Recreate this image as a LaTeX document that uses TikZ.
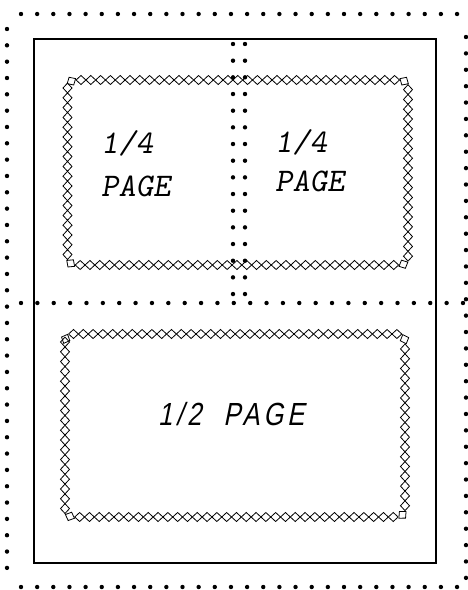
\documentclass[tikz,border=0pt]{standalone}
\usepackage{fontspec}
\newfontfamily\condsans[FakeStretch=0.8,FakeSlant=0.2,LetterSpace=12]{Liberation Sans}
\usetikzlibrary{decorations.markings, positioning}

\begin{document}
\begin{tikzpicture}[x=1pt, y=-1pt,
frame/.style={line width=2pt},
chain/.style={rounded corners=8pt, postaction={decorate},
  decoration={markings, mark=between positions 0 and 1 step 9.8pt with {
    \draw[sharp corners, line width=0.8pt] (-4.9pt,0) -- (0,4.5pt) -- (4.9pt,0) -- (0,-4.5pt) -- cycle;}}},
quarter/.style={font=\ttfamily\slshape\fontsize{33}{38}\selectfont, inner sep=0pt, anchor=west},
half/.style={font=\condsans\fontsize{32}{38}\selectfont, inner sep=0pt, anchor=west}
]
\useasboundingbox (0,0) rectangle (468,590);
% page and ad spaces
\draw[frame] (34,39) rectangle (436,563);
\path[chain] (67.5,80) rectangle (408,265);
\path[chain] (65,334) rectangle (405,517);
% dotted cut lines
\foreach \i in {0,...,27} {
  \fill (21+\i*16.15,14) circle (2.2pt);
  \fill (21+\i*16.15,587) circle (2.2pt);
  \fill (21+\i*16.37,303) circle (2.2pt);
}
\foreach \i in {0,...,33} {
  \fill (7,29+\i*16.33) circle (2.2pt);
  \fill (466,37+\i*16.39) circle (2.2pt);
}
\foreach \i in {0,...,15} {
  \fill (233,44+\i*16.67) circle (2.2pt);
  \fill (245,44+\i*16.67) circle (2.2pt);
}
% labels
\node[quarter] (q1a) at (101,143) {1/4};
\node[quarter] (q1b) at (101,186) {PAGE};
\node[quarter] (q2a) at (275,142) {1/4};
\node[quarter] (q2b) at (275,181) {PAGE};
\node[half] (h) at (158,414) {1/2\ \ PAGE};
\end{tikzpicture}
\end{document}
